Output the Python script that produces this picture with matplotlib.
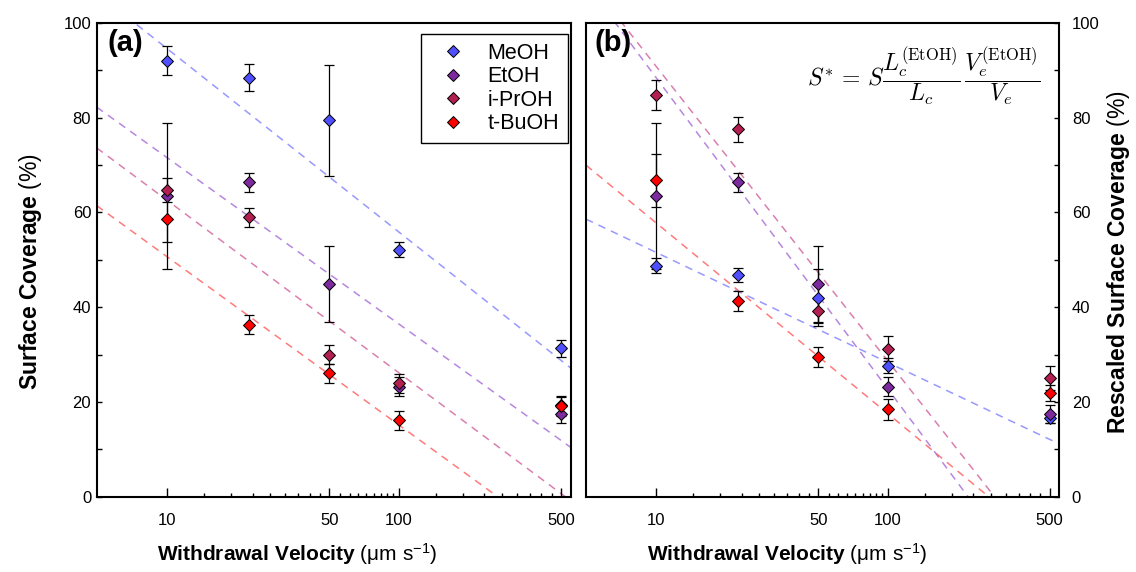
import matplotlib
matplotlib.use('Agg')
import matplotlib.pyplot as plt
import numpy as np
from matplotlib.ticker import FixedLocator, FixedFormatter, NullFormatter

plt.rcParams['font.family'] = ['Liberation Sans', 'DejaVu Sans']
plt.rcParams['mathtext.fontset'] = 'custom'
plt.rcParams['mathtext.rm'] = 'Liberation Sans'
plt.rcParams['mathtext.bf'] = 'Liberation Sans:bold'
plt.rcParams['mathtext.it'] = 'Liberation Sans:italic'

# withdrawal velocities (um/s)
velocity = [10, 22.5, 50, 100, 500]
solvents = ['MeOH', 'EtOH', 'i-PrOH', 't-BuOH']
marker_colors = ['#4f4fff', '#7d2a9e', '#b31f50', '#ff0000']
line_colors = ['#7f7fff', '#a469d6', '#d0609a', '#ff5a5a']

# (a) surface coverage (%)
cov_meoh = [92.0, 88.4, 79.4, 52.1, 31.3]
cov_etoh = [63.5, 66.3, 44.8, 23.2, 17.5]
cov_iproh = [64.7, 59.0, 30.0, 23.9, 19.4]
cov_tbuoh = [58.6, 36.3, 26.0, 16.1, 19.1]
err_meoh = [3.1, 2.8, 11.7, 1.6, 1.8]
err_etoh = [15.4, 2.0, 8.0, 2.0, 1.9]
err_iproh = [2.6, 2.0, 2.0, 2.0, 1.9]
err_tbuoh = [4.9, 2.0, 2.0, 2.0, 2.0]

# (b) rescaled surface coverage (%)
res_meoh = [48.7, 46.8, 42.0, 27.6, 16.5]
res_etoh = [63.5, 66.3, 44.8, 23.2, 17.5]
res_iproh = [84.7, 77.5, 39.2, 31.2, 25.0]
res_tbuoh = [66.8, 41.3, 29.5, 18.4, 21.9]
rerr_meoh = [1.6, 1.5, 6.0, 1.6, 0.9]
rerr_etoh = [15.4, 2.0, 8.0, 2.0, 1.9]
rerr_iproh = [3.2, 2.7, 2.6, 2.6, 2.5]
rerr_tbuoh = [5.6, 2.2, 2.1, 2.2, 1.7]

# log fits: S = intercept + slope*log10(v)
fit_a_intercept = [133.2, 106.6, 98.9, 86.1]
fit_a_slope = [-38.7, -35.1, -36.4, -35.5]
fit_b_intercept = [74.7, 153.9, 152.8, 97.9]
fit_b_slope = [-23.2, -65.6, -62.1, -40.2]

x_major = [10, 50, 100, 500]
x_lim = (4.96, 550)

W, H = 1136, 572
fig = plt.figure(figsize=(W / 100, H / 100), dpi=100)
ax1 = fig.add_axes([96.7 / W, 1 - 496.7 / H, 474 / W, 474 / H])
ax2 = fig.add_axes([586 / W, 1 - 496.7 / H, 473.3 / W, 474 / H])


def draw_panel(ax, values, errors, intercepts, slopes):
    vgrid = np.logspace(np.log10(x_lim[0]), np.log10(x_lim[1]), 200)
    for i in range(4):
        ax.plot(vgrid, intercepts[i] + slopes[i] * np.log10(vgrid), '--', color=line_colors[i],
                lw=1.1, dashes=(5, 4), alpha=0.8, zorder=1)
    for i in range(4):
        ax.errorbar(velocity, values[i], yerr=errors[i], fmt='none', ecolor='k', elinewidth=0.9,
                    capsize=3.5, capthick=0.9, zorder=2)
        ax.plot(velocity, values[i], 'D', ms=6, mfc=marker_colors[i], mec='k', mew=0.7,
                zorder=3, label=solvents[i])
    ax.set_xscale('log')
    ax.set_xlim(*x_lim)
    ax.set_ylim(0, 100)
    minor = np.concatenate([np.linspace(a, b, 10)[1:-1] for a, b in zip(x_major[:-1], x_major[1:])])
    ax.xaxis.set_major_locator(FixedLocator(x_major))
    ax.xaxis.set_major_formatter(FixedFormatter([str(v) for v in x_major]))
    ax.xaxis.set_minor_locator(FixedLocator(minor))
    ax.xaxis.set_minor_formatter(NullFormatter())
    ax.yaxis.set_major_locator(FixedLocator(range(0, 101, 20)))
    ax.yaxis.set_minor_locator(FixedLocator(range(10, 100, 20)))
    ax.tick_params(axis='x', which='major', direction='in', length=6.5, width=1, pad=12,
                   labelsize=12, top=False)
    ax.tick_params(axis='x', which='minor', direction='in', length=3, width=1, top=False)
    ax.tick_params(axis='y', which='both', direction='in', length=3.5, width=1, labelsize=12)
    for s in ax.spines.values():
        s.set_linewidth(1.5)


draw_panel(ax1, [cov_meoh, cov_etoh, cov_iproh, cov_tbuoh],
           [err_meoh, err_etoh, err_iproh, err_tbuoh], fit_a_intercept, fit_a_slope)
draw_panel(ax2, [res_meoh, res_etoh, res_iproh, res_tbuoh],
           [rerr_meoh, rerr_etoh, rerr_iproh, rerr_tbuoh], fit_b_intercept, fit_b_slope)

ax1.tick_params(axis='y', which='both', left=True, right=False, pad=4)
ax2.yaxis.tick_right()
ax2.tick_params(axis='y', which='both', left=False, right=True, labelright=True, labelleft=False, pad=9)

ax1.text(0.022, 0.958, '(a)', transform=ax1.transAxes, fontsize=21, fontweight='bold',
         va='center', ha='left')
ax2.text(0.017, 0.958, '(b)', transform=ax2.transAxes, fontsize=21, fontweight='bold',
         va='center', ha='left')

leg = ax1.legend(loc='upper right', bbox_to_anchor=(0.994, 0.976), numpoints=1,
                 prop={'size': 15.5}, frameon=True, fancybox=False,
                 edgecolor='k', framealpha=1, borderpad=0.4, handlelength=2.2,
                 handletextpad=0.5, labelspacing=0.12, borderaxespad=0)
leg.get_frame().set_linewidth(1)

ax2.text(0.96, 0.885,
         r'$S^{*}\,=\,S\dfrac{L_c^{(\mathrm{EtOH})}}{L_c}\,\dfrac{V_e^{(\mathrm{EtOH})}}{V_e}$',
         transform=ax2.transAxes, fontsize=17, math_fontfamily='cm', ha='right', va='center')

xlabel = r'$\mathbf{Withdrawal\ Velocity}$ (μm s$^{-1}$)'
fig.text(297 / W, 1 - 554 / H, xlabel, fontsize=15, ha='center', va='center')
fig.text(787 / W, 1 - 554 / H, xlabel, fontsize=15, ha='center', va='center')
fig.text(31 / W, 1 - 272 / H, r'$\mathbf{Surface\ Coverage}$ (%)', fontsize=16.5,
         rotation=90, ha='center', va='center')
fig.text(1118 / W, 1 - 262 / H, r'$\mathbf{Rescaled\ Surface\ Coverage}$ (%)', fontsize=16.5,
         rotation=90, ha='center', va='center')

fig.savefig('out.png', dpi=100)
